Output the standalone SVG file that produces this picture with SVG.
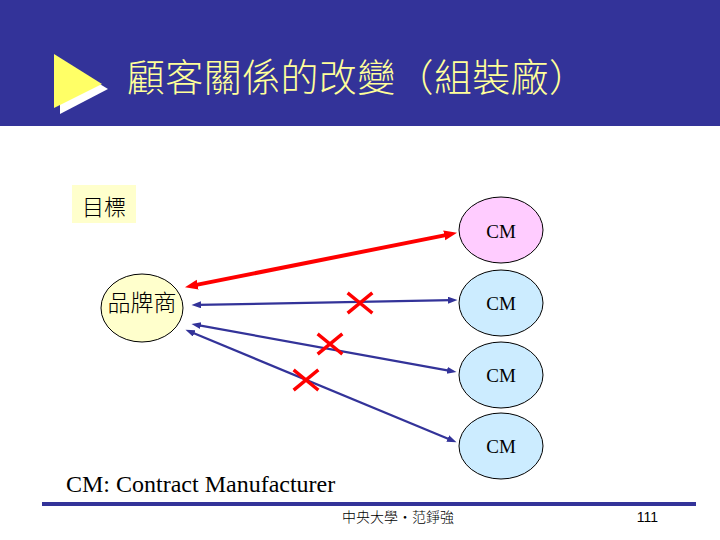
<svg xmlns="http://www.w3.org/2000/svg" width="720" height="540" viewBox="0 0 720 540">
<defs>
<style>
.cjk{font-family:"Noto Sans CJK TC","Noto Sans CJK SC",sans-serif;font-weight:300;}
.times{font-family:"Liberation Serif","Times New Roman",serif;}
.node{stroke:#000;stroke-width:1;}
.cm{fill:#CCECFF;}
.lbl{font-size:19px;fill:#000;text-anchor:middle;}
.blue{stroke:#333399;stroke-width:2.2;fill:none;marker-start:url(#ab);marker-end:url(#ab);}
.red{stroke:#FF0000;stroke-width:4;fill:none;marker-start:url(#ar);marker-end:url(#ar);}
.x{stroke:#FF0000;stroke-width:3.5;stroke-linecap:square;}
</style>
<marker id="ar" markerUnits="userSpaceOnUse" markerWidth="14" markerHeight="12" refX="4" refY="5" orient="auto-start-reverse">
<path d="M0,0 L13,5 L0,10 z" fill="#FF0000"/>
</marker>
<marker id="ab" markerUnits="userSpaceOnUse" markerWidth="11" markerHeight="8" refX="3" refY="3.5" orient="auto-start-reverse">
<path d="M0,0 L9.5,3.5 L0,7 z" fill="#333399"/>
</marker>
</defs>
<rect width="720" height="540" fill="#FFFFFF"/>
<g id="header">
<rect x="0" y="0" width="720" height="126" fill="#333399"/>
<polygon points="60,60 108,89 60,114" fill="#FFFFFF"/>
<polygon points="54,54 102,84 54,108" fill="#FFFF66"/>
<text class="cjk" x="127" y="91" font-size="38" fill="#FFFF99" textLength="460" lengthAdjust="spacing">顧客關係的改變（組裝廠）</text>
</g>
<g id="goal">
<rect x="72" y="185" width="64" height="38" fill="#FFFFCC"/>
<text class="cjk" x="104" y="215" font-size="22" text-anchor="middle" fill="#000">目標</text>
</g>
<g id="brand">
<ellipse class="node" cx="142" cy="308" rx="41" ry="34" fill="#FFFFCC"/>
<text class="cjk" x="142" y="311" font-size="23" text-anchor="middle" fill="#000">品牌商</text>
</g>
<g id="cm1">
<ellipse class="node" cx="501" cy="230" rx="42" ry="33" fill="#FFCCFF"/>
<text class="times lbl" x="501" y="238">CM</text>
</g>
<g id="cm2">
<ellipse class="node cm" cx="501" cy="303" rx="42" ry="33"/>
<text class="times lbl" x="501" y="310">CM</text>
</g>
<g id="cm3">
<ellipse class="node cm" cx="501" cy="375" rx="42" ry="33"/>
<text class="times lbl" x="501" y="382">CM</text>
</g>
<g id="cm4">
<ellipse class="node cm" cx="501" cy="446" rx="42" ry="33"/>
<text class="times lbl" x="501" y="453">CM</text>
</g>
<g id="connectors">
<line class="red" x1="193.8" y1="285.4" x2="448.2" y2="234.6"/>
<line class="blue" x1="198" y1="304.9" x2="451" y2="300.1"/>
<line class="blue" x1="197.9" y1="325.1" x2="450.1" y2="370.9"/>
<line class="blue" x1="191.5" y1="332.3" x2="450.5" y2="439.7"/>
</g>
<g id="crosses">
<path class="x" d="M349,294 L371,312 M371,294 L349,312"/>
<path class="x" d="M319,335 L341,353 M341,335 L319,353"/>
<path class="x" d="M295,371 L317,389 M317,371 L295,389"/>
</g>
<g id="legend">
<text class="times" x="66" y="492" font-size="24" fill="#000">CM: Contract Manufacturer</text>
</g>
<g id="footer">
<rect x="42" y="502" width="654" height="4" fill="#333399"/>
<text class="cjk" x="342" y="522" font-size="14" fill="#000">中央大學‧范錚強</text>
<text font-family="Liberation Sans, Arial, sans-serif" x="658" y="522" font-size="14" text-anchor="end" fill="#000">111</text>
</g>
</svg>
